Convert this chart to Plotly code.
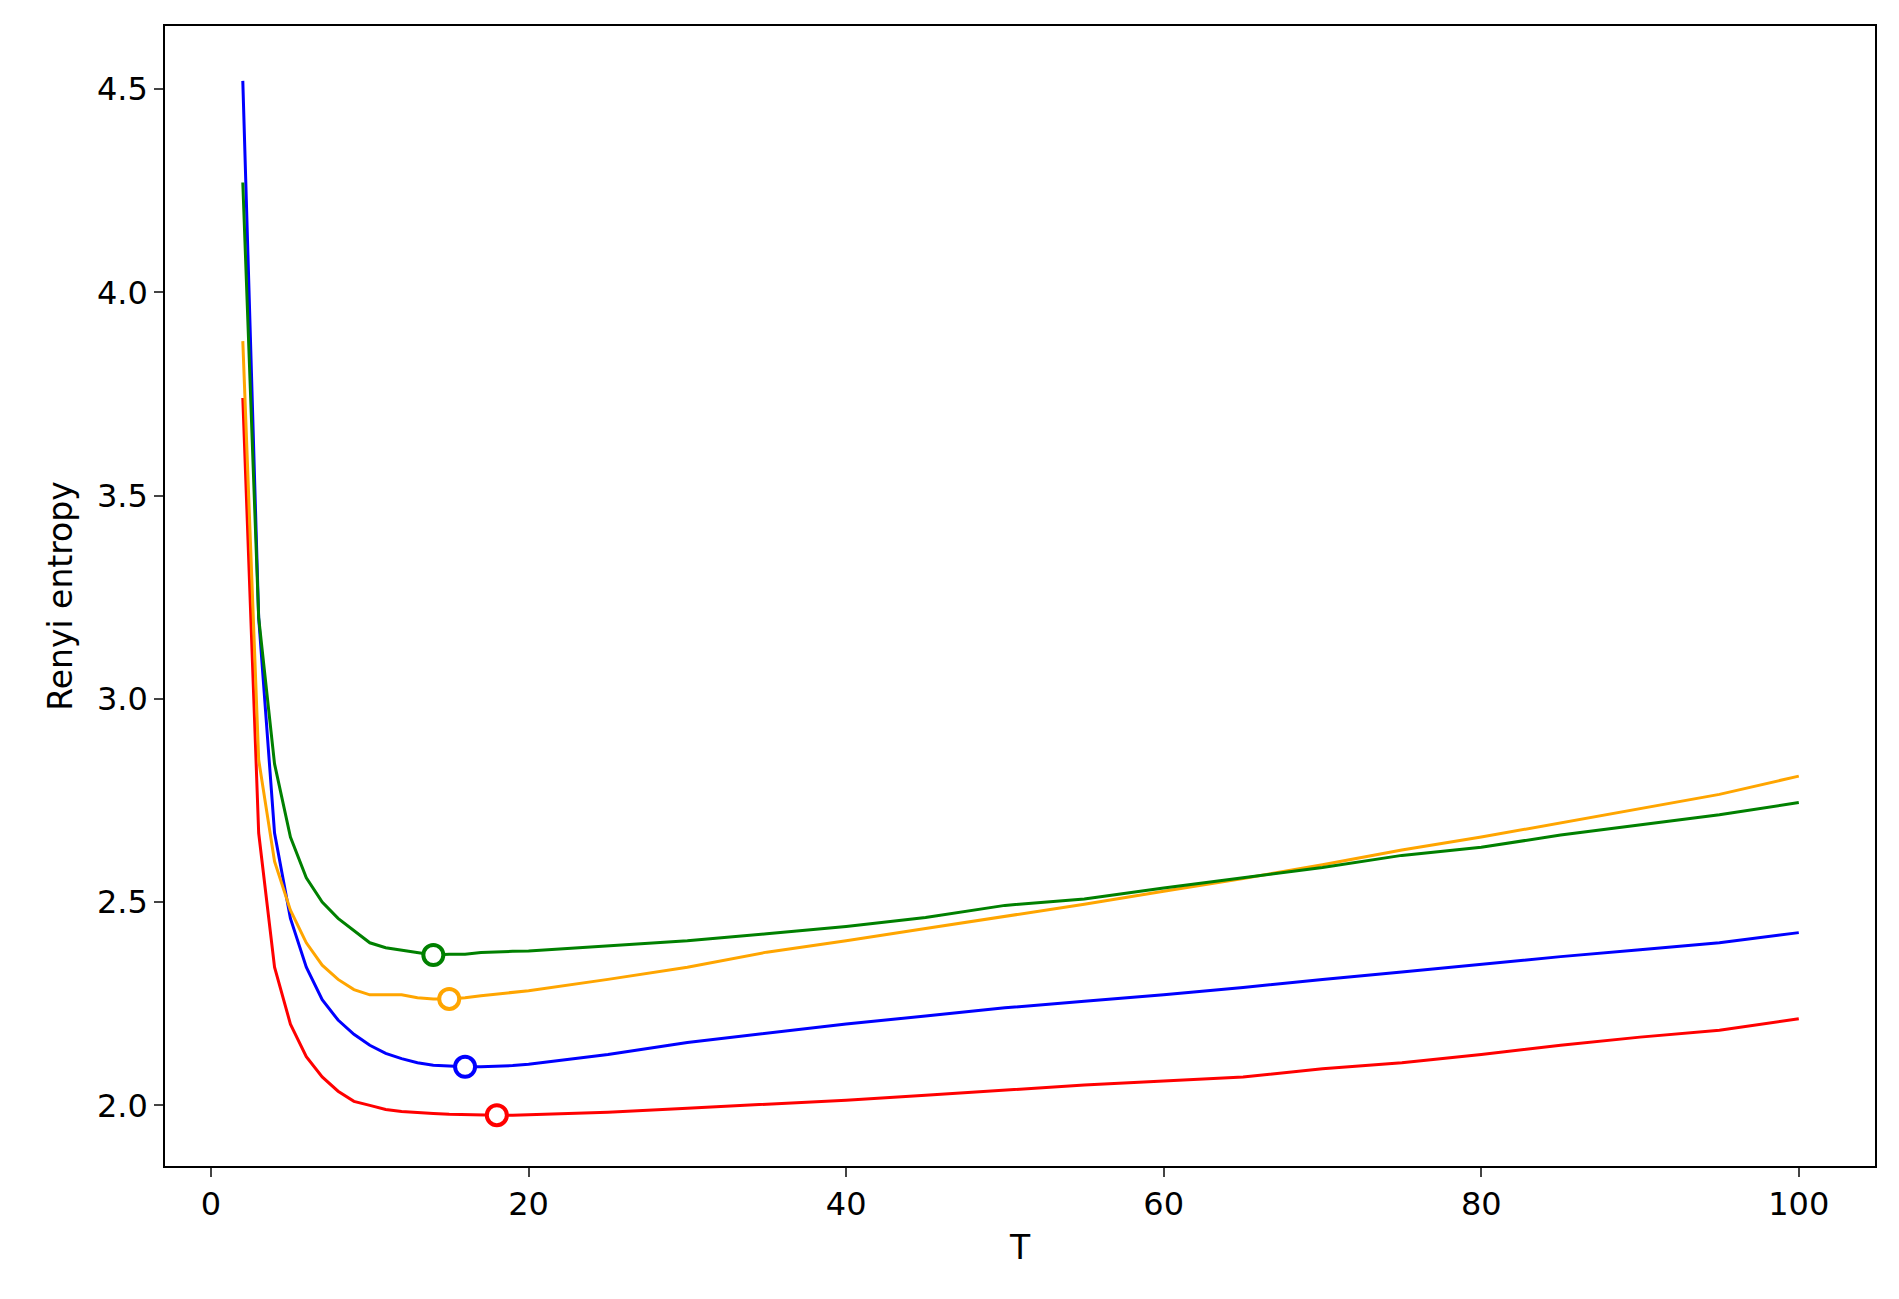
import plotly.graph_objects as go

T = [2,3,4,5,6,7,8,9,10,11,12,13,14,15,16,17,18,19,20,25,30,35,40,45,50,55,60,65,70,75,80,85,90,95,100]
red = [3.74,2.67,2.34,2.20,2.12,2.07,2.035,2.01,2.0,1.99,1.985,1.982,1.98,1.978,1.977,1.976,1.976,1.976,1.977,1.983,1.993,2.003,2.013,2.025,2.037,2.05,2.06,2.07,2.09,2.105,2.125,2.148,2.168,2.185,2.213]
blue = [4.52,3.2,2.67,2.46,2.34,2.26,2.21,2.175,2.148,2.128,2.115,2.105,2.099,2.097,2.095,2.095,2.096,2.098,2.101,2.125,2.155,2.178,2.2,2.22,2.24,2.256,2.272,2.29,2.31,2.328,2.347,2.366,2.383,2.4,2.425]
orange = [3.88,2.85,2.6,2.48,2.4,2.345,2.31,2.285,2.272,2.272,2.272,2.265,2.262,2.262,2.265,2.27,2.274,2.277,2.282,2.31,2.34,2.377,2.405,2.435,2.465,2.495,2.527,2.558,2.592,2.628,2.66,2.695,2.73,2.765,2.81]
green = [4.27,3.2,2.84,2.66,2.56,2.5,2.46,2.43,2.4,2.388,2.382,2.376,2.37,2.372,2.372,2.376,2.378,2.379,2.38,2.392,2.405,2.422,2.44,2.462,2.492,2.508,2.535,2.56,2.585,2.615,2.635,2.665,2.69,2.715,2.745]
min_T = {"red": 18, "blue": 16, "orange": 15, "green": 14}

series = [("blue", blue), ("red", red), ("orange", orange), ("green", green)]
fig = go.Figure()
for color, vals in series:
    fig.add_trace(go.Scatter(x=T, y=vals, mode="lines", line=dict(color=color, width=3), showlegend=False))
for color, vals in series:
    i = T.index(min_T[color])
    fig.add_trace(go.Scatter(x=[T[i]], y=[vals[i]], mode="markers",
                             marker=dict(size=20, color="white", line=dict(color=color, width=4)),
                             showlegend=False))

ax = dict(showgrid=False, zeroline=False, showline=True, linecolor="black", linewidth=1.5, mirror=True,
          ticks="outside", ticklen=9, tickwidth=1.5, tickfont=dict(size=32, color="black"))
fig.update_layout(
    width=1899, height=1299, plot_bgcolor="white", paper_bgcolor="white",
    margin=dict(l=157, r=32, t=18, b=141),
    font=dict(family="DejaVu Sans", color="black"),
    xaxis=dict(range=[-2.9, 104.8], tickvals=[0,20,40,60,80,100],
               title=dict(text="T", font=dict(size=33), standoff=14), **ax),
    yaxis=dict(range=[1.851, 4.655], tickvals=[2.0,2.5,3.0,3.5,4.0,4.5], tickformat=".1f",
               title=dict(text="Renyi entropy", font=dict(size=33), standoff=14), **ax),
)
fig.write_html("out.html")
